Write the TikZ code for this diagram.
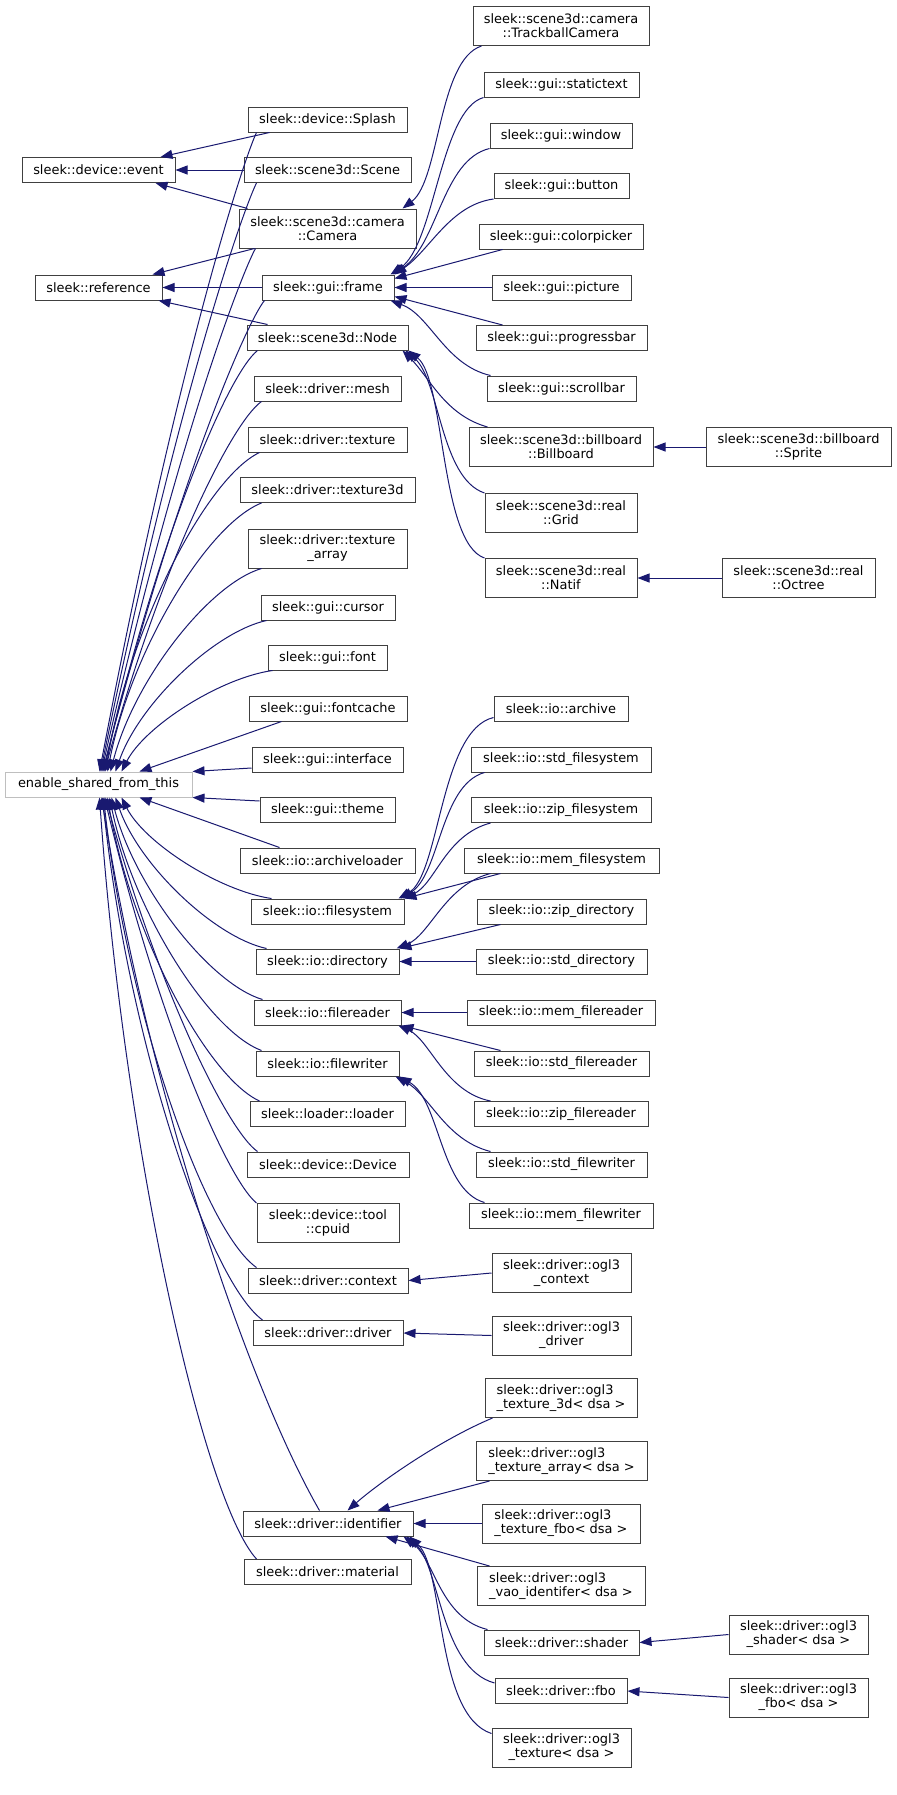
\documentclass[tikz,border=0pt]{standalone}
\usepackage{fontspec}
\setmainfont{DejaVu Sans}
\usetikzlibrary{arrows.meta,calc}
\definecolor{edgeblue}{HTML}{191970}
\definecolor{nodeborder}{HTML}{404040}
\definecolor{baseborder}{HTML}{BFBFBF}
\tikzset{
  box/.style={draw=nodeborder, fill=white, line width=0.75pt, inner sep=0pt,
    minimum width=#1*0.75pt, minimum height=18.75pt,
    font=\fontsize{9.7}{10.5}\selectfont, align=center},
  dbl/.style={minimum height=29.25pt},
  lft/.style={align=left},
  inh/.style={draw=edgeblue, line width=0.75pt, {Triangle[length=9pt,width=6.75pt]}-},
}
\begin{document}
\begin{tikzpicture}[x=0.75pt,y=-0.75pt]
\useasboundingbox (0,0) rectangle (896,1795);
% column 1
\node[box=153] (event) at (98.5,170) {sleek::device::event};
\node[box=127] (reference) at (98.5,287.5) {sleek::reference};
\node[box=187, draw=baseborder] (E) at (98.5,784.5) {enable\_shared\_from\_this};
% column 2
\node[box=159] (splash) at (327.5,119.5) {sleek::device::Splash};
\node[box=167] (scene) at (327.5,170) {sleek::scene3d::Scene};
\node[box=177, dbl] (camera) at (327.5,228.5) {sleek::scene3d::camera\\::Camera};
\node[box=132] (frame) at (328,287.5) {sleek::gui::frame};
\node[box=161] (node3d) at (327.5,337.5) {sleek::scene3d::Node};
\node[box=147] (mesh) at (327.5,388.5) {sleek::driver::mesh};
\node[box=159] (texture) at (327.5,439.5) {sleek::driver::texture};
\node[box=175] (texture3d) at (327.5,490) {sleek::driver::texture3d};
\node[box=159, dbl] (texarray) at (327.5,548.5) {sleek::driver::texture\\\_array};
\node[box=134] (cursor) at (328,607.5) {sleek::gui::cursor};
\node[box=119] (font) at (327.5,657.5) {sleek::gui::font};
\node[box=158] (fontcache) at (328,708.5) {sleek::gui::fontcache};
\node[box=151] (interface) at (327.5,759.5) {sleek::gui::interface};
\node[box=135] (theme) at (327.5,810) {sleek::gui::theme};
\node[box=175] (archiveloader) at (327.5,860.5) {sleek::io::archiveloader};
\node[box=153] (filesystem) at (327.5,911.5) {sleek::io::filesystem};
\node[box=143] (directory) at (327.5,961.5) {sleek::io::directory};
\node[box=147] (filereader) at (327.5,1012.5) {sleek::io::filereader};
\node[box=143] (filewriter) at (327.5,1063.5) {sleek::io::filewriter};
\node[box=155] (loader) at (327.5,1114) {sleek::loader::loader};
\node[box=162] (device) at (328,1164.5) {sleek::device::Device};
\node[box=142, dbl] (cpuid) at (328,1223) {sleek::device::tool\\::cpuid};
\node[box=160] (context) at (328,1280.5) {sleek::driver::context};
\node[box=150] (driver) at (328,1333) {sleek::driver::driver};
\node[box=170] (identifier) at (328,1523.5) {sleek::driver::identifier};
\node[box=167] (material) at (327.5,1572) {sleek::driver::material};
% column 3
\node[box=176, dbl] (trackball) at (561,26) {sleek::scene3d::camera\\::TrackballCamera};
\node[box=155] (statictext) at (561.5,84.5) {sleek::gui::statictext};
\node[box=142] (window) at (561,135.5) {sleek::gui::window};
\node[box=135] (button) at (561.5,186) {sleek::gui::button};
\node[box=164] (colorpicker) at (561,236.5) {sleek::gui::colorpicker};
\node[box=139] (picture) at (561.5,287.5) {sleek::gui::picture};
\node[box=171] (progressbar) at (561.5,338) {sleek::gui::progressbar};
\node[box=149] (scrollbar) at (561.5,388.5) {sleek::gui::scrollbar};
\node[box=184, dbl] (billboard) at (561,447) {sleek::scene3d::billboard\\::Billboard};
\node[box=152, dbl] (grid) at (561,513) {sleek::scene3d::real\\::Grid};
\node[box=152, dbl] (natif) at (561,578) {sleek::scene3d::real\\::Natif};
\node[box=134] (archive) at (561,708.5) {sleek::io::archive};
\node[box=180] (stdfs) at (561,759.5) {sleek::io::std\_filesystem};
\node[box=180] (zipfs) at (561,810) {sleek::io::zip\_filesystem};
\node[box=195] (memfs) at (561.5,860.5) {sleek::io::mem\_filesystem};
\node[box=169] (zipdir) at (561.5,911.5) {sleek::io::zip\_directory};
\node[box=171] (stddir) at (561.5,961.5) {sleek::io::std\_directory};
\node[box=188] (memfr) at (561,1012.5) {sleek::io::mem\_filereader};
\node[box=175] (stdfr) at (561.5,1063.5) {sleek::io::std\_filereader};
\node[box=174] (zipfr) at (561,1114) {sleek::io::zip\_filereader};
\node[box=171] (stdfw) at (561.5,1164.5) {sleek::io::std\_filewriter};
\node[box=184] (memfw) at (561,1215.5) {sleek::io::mem\_filewriter};
\node[box=139, dbl] (oglctx) at (561.5,1273) {sleek::driver::ogl3\\\_context};
\node[box=139, dbl] (ogldrv) at (561.5,1335.5) {sleek::driver::ogl3\\\_driver};
\node[box=152, dbl, lft] (ogltexthree) at (561,1398) {sleek::driver::ogl3\\\_texture\_3d< dsa >};
\node[box=171, dbl, lft] (ogltexarr) at (561.5,1461) {sleek::driver::ogl3\\\_texture\_array< dsa >};
\node[box=158, dbl, lft] (ogltexfbo) at (561,1523.5) {sleek::driver::ogl3\\\_texture\_fbo< dsa >};
\node[box=168, dbl, lft] (oglvao) at (561,1586) {sleek::driver::ogl3\\\_vao\_identifer< dsa >};
\node[box=155] (shader) at (561.5,1642.5) {sleek::driver::shader};
\node[box=132] (fbo) at (561,1691) {sleek::driver::fbo};
\node[box=139, dbl] (ogltex) at (561.5,1747.5) {sleek::driver::ogl3\\\_texture< dsa >};
% column 4
\node[box=185, dbl] (sprite) at (798.5,447) {sleek::scene3d::billboard\\::Sprite};
\node[box=153, dbl] (octree) at (798.5,578) {sleek::scene3d::real\\::Octree};
\node[box=139, dbl] (oglshader) at (798.5,1634.5) {sleek::driver::ogl3\\\_shader< dsa >};
\node[box=139, dbl] (oglfbo) at (798.5,1697.5) {sleek::driver::ogl3\\\_fbo< dsa >};

% ---- edges into enable_shared_from_this (from above)
\draw[inh] ($(E.north west)+(95,0)$) .. controls (178.5,356) and (244.4,157.6) .. ($(splash.south west)+(9,0)$);
\draw[inh] ($(E.north west)+(96,0)$) .. controls (179,389) and (244.5,206.6) .. ($(scene.south west)+(13,0)$);
\draw[inh] ($(E.north west)+(97,0)$) .. controls (179,431) and (243.7,269) .. ($(camera.south west)+(17,0)$);
\draw[inh] ($(E.north west)+(98,0)$) .. controls (182.5,465) and (249,319) .. ($(frame.south west)+(3,0)$);
\draw[inh] ($(E.north west)+(99,0)$) .. controls (158,540) and (227,375) .. ($(node3d.south west)+(11,0)$);
\draw[inh] ($(E.north west)+(100,0)$) .. controls (160,568) and (231,423) .. ($(mesh.south west)+(8,0)$);
\draw[inh] ($(E.north west)+(101,0)$) .. controls (129,628) and (206,478) .. ($(texture.south west)+(12,0)$);
\draw[inh] ($(E.north west)+(103,0)$) .. controls (131,651) and (207,524.5) .. ($(texture3d.south west)+(22,0)$);
\draw[inh] ($(E.north west)+(106,0)$) .. controls (134,680) and (209,584) .. ($(texarray.south west)+(14,0)$);
\draw[inh] ($(E.north west)+(111,0)$) .. controls (139,704) and (214,632) .. ($(cursor.south west)+(6,0)$);
\draw[inh] ($(E.north west)+(117,0)$) .. controls (145,726) and (220,678) .. ($(font.south west)+(5,0)$);
\draw[inh] ($(E.north west)+(135,0)$) -- ($(fontcache.south west)+(33,0)$);
\draw[inh] (E.north east) -- ($(interface.west)+(0,8.5)$);
% ---- edges into enable_shared_from_this (from below)
\draw[inh] (E.south east) -- ($(theme.west)+(0,-9)$);
\draw[inh] ($(E.south west)+(135,0)$) -- ($(archiveloader.north west)+(40,0)$);
\draw[inh] ($(E.south west)+(117,0)$) .. controls (144.5,843) and (219.5,891) .. ($(filesystem.north west)+(21,0)$);
\draw[inh] ($(E.south west)+(111,0)$) .. controls (139,865) and (214,937) .. ($(directory.north west)+(11,0)$);
\draw[inh] ($(E.south west)+(107,0)$) .. controls (135,888) and (210,984) .. ($(filereader.north west)+(9,0)$);
\draw[inh] ($(E.south west)+(105,0)$) .. controls (133,911) and (209,1031) .. ($(filewriter.north west)+(6,0)$);
\draw[inh] ($(E.south west)+(103,0)$) .. controls (131,934) and (207,1077) .. ($(loader.north west)+(10,0)$);
\draw[inh] ($(E.south west)+(101,0)$) .. controls (159,992) and (228,1131) .. ($(device.north west)+(11,0)$);
\draw[inh] ($(E.south west)+(100,0)$) .. controls (158,1020) and (227,1179) .. (cpuid.north west);
\draw[inh] ($(E.south west)+(99,0)$) .. controls (127,1009) and (203.5,1230) .. ($(context.north west)+(9,0)$);
\draw[inh] ($(E.south west)+(98,0)$) .. controls (127,1033) and (207,1279) .. ($(driver.north west)+(10,0)$);
\draw[inh] ($(E.south west)+(97,0)$) .. controls (150,1100) and (250,1390) .. ($(identifier.north west)+(77,0)$);
\draw[inh] ($(E.south west)+(95,0)$) .. controls (123.5,1140) and (202,1499) .. ($(material.north west)+(13,0)$);

% ---- event and reference
\draw[inh] ($(event.north east)+(-15,0)$) -- ($(splash.south west)+(22,0)$);
\draw[inh] (event.east) -- (scene.west);
\draw[inh] ($(event.south east)+(-20,0)$) -- ($(camera.north west)+(9,0)$);
\draw[inh] ($(reference.north east)+(-10,0)$) -- ($(camera.south west)+(16,0)$);
\draw[inh] (reference.east) -- (frame.west);
\draw[inh] ($(reference.south east)+(-4,0)$) -- ($(node3d.north west)+(21,0)$);

% ---- camera, frame
\draw[inh] ($(camera.north east)+(-14,0)$) .. controls (440,180) and (438,60) .. ($(trackball.south west)+(9,0)$);
\draw[inh] ($(frame.north east)+(-4,0)$) .. controls (435,245) and (440,110) .. (statictext.south west);
\draw[inh] ($(frame.north east)+(-2,0)$) .. controls (438,245) and (442,160) .. (window.south west);
\draw[inh] (frame.north east) .. controls (430,250) and (450,205) .. (button.south west);
\draw[inh] ($(frame.east)+(0,-9)$) -- ($(colorpicker.south west)+(24,0)$);
\draw[inh] (frame.east) -- (picture.west);
\draw[inh] ($(frame.east)+(0,9)$) -- ($(progressbar.north west)+(27,0)$);
\draw[inh] ($(frame.south east)+(-4,0)$) .. controls (430,315) and (445,365) .. ($(scrollbar.north west)+(4,0)$);

% ---- scene3d::Node
\draw[inh] ($(node3d.south east)+(-6,0)$) .. controls (430,378) and (445,415) .. ($(billboard.north west)+(19,0)$);
\draw[inh] ($(node3d.south east)+(-3,0)$) .. controls (440,380) and (440,478) .. (grid.north west);
\draw[inh] (node3d.south east) .. controls (445,380) and (440,543) .. (natif.north west);
\draw[inh] (billboard.east) -- (sprite.west);
\draw[inh] (natif.east) -- (octree.west);

% ---- io
\draw[inh] ($(filesystem.north east)+(-6,0)$) .. controls (440,875) and (440,730) .. ($(archive.south west)+(0,-4)$);
\draw[inh] ($(filesystem.north east)+(-4,0)$) .. controls (440,875) and (440,785) .. ($(stdfs.south west)+(14,0)$);
\draw[inh] ($(filesystem.north east)+(-2,0)$) .. controls (435,885) and (445,835) .. ($(zipfs.south west)+(20,0)$);
\draw[inh] (filesystem.north east) -- ($(memfs.south west)+(37,0)$);
\draw[inh] ($(directory.north east)+(-3,0)$) .. controls (430,935) and (445,885) .. ($(memfs.south west)+(27,0)$);
\draw[inh] (directory.north east) -- ($(zipdir.south west)+(24,0)$);
\draw[inh] (directory.east) -- (stddir.west);
\draw[inh] (filereader.east) -- (memfr.west);
\draw[inh] (filereader.south east) -- ($(stdfr.north west)+(27,0)$);
\draw[inh] ($(filereader.south east)+(-3,0)$) .. controls (430,1040) and (445,1092) .. ($(zipfr.north west)+(17,0)$);
\draw[inh] ($(filewriter.south east)+(-4,0)$) .. controls (430,1095) and (445,1140) .. ($(stdfw.north west)+(15,0)$);
\draw[inh] (filewriter.south east) .. controls (440,1100) and (440,1190) .. ($(memfw.north west)+(16,0)$);

% ---- driver
\draw[inh] (context.east) -- (oglctx.west);
\draw[inh] (driver.east) -- (ogldrv.west);
\draw[inh] ($(identifier.north east)+(-66,0)$) .. controls (380,1482) and (440,1440) .. ($(ogltexthree.south west)+(8,0)$);
\draw[inh] ($(identifier.north east)+(-36,0)$) -- ($(ogltexarr.south west)+(14,0)$);
\draw[inh] (identifier.east) -- (ogltexfbo.west);
\draw[inh] ($(identifier.south east)+(-28,0)$) -- ($(oglvao.north west)+(13,0)$);
\draw[inh] ($(identifier.south east)+(-10,0)$) .. controls (435,1560) and (440,1618) .. ($(shader.north west)+(4,0)$);
\draw[inh] ($(identifier.south east)+(-7,0)$) .. controls (440,1565) and (440,1668) .. ($(fbo.west)+(0,-8)$);
\draw[inh] ($(identifier.south east)+(-4,0)$) .. controls (445,1570) and (435,1715) .. ($(ogltex.west)+(0,-14)$);
\draw[inh] (shader.east) -- (oglshader.west);
\draw[inh] (fbo.east) -- (oglfbo.west);
\end{tikzpicture}
\end{document}
